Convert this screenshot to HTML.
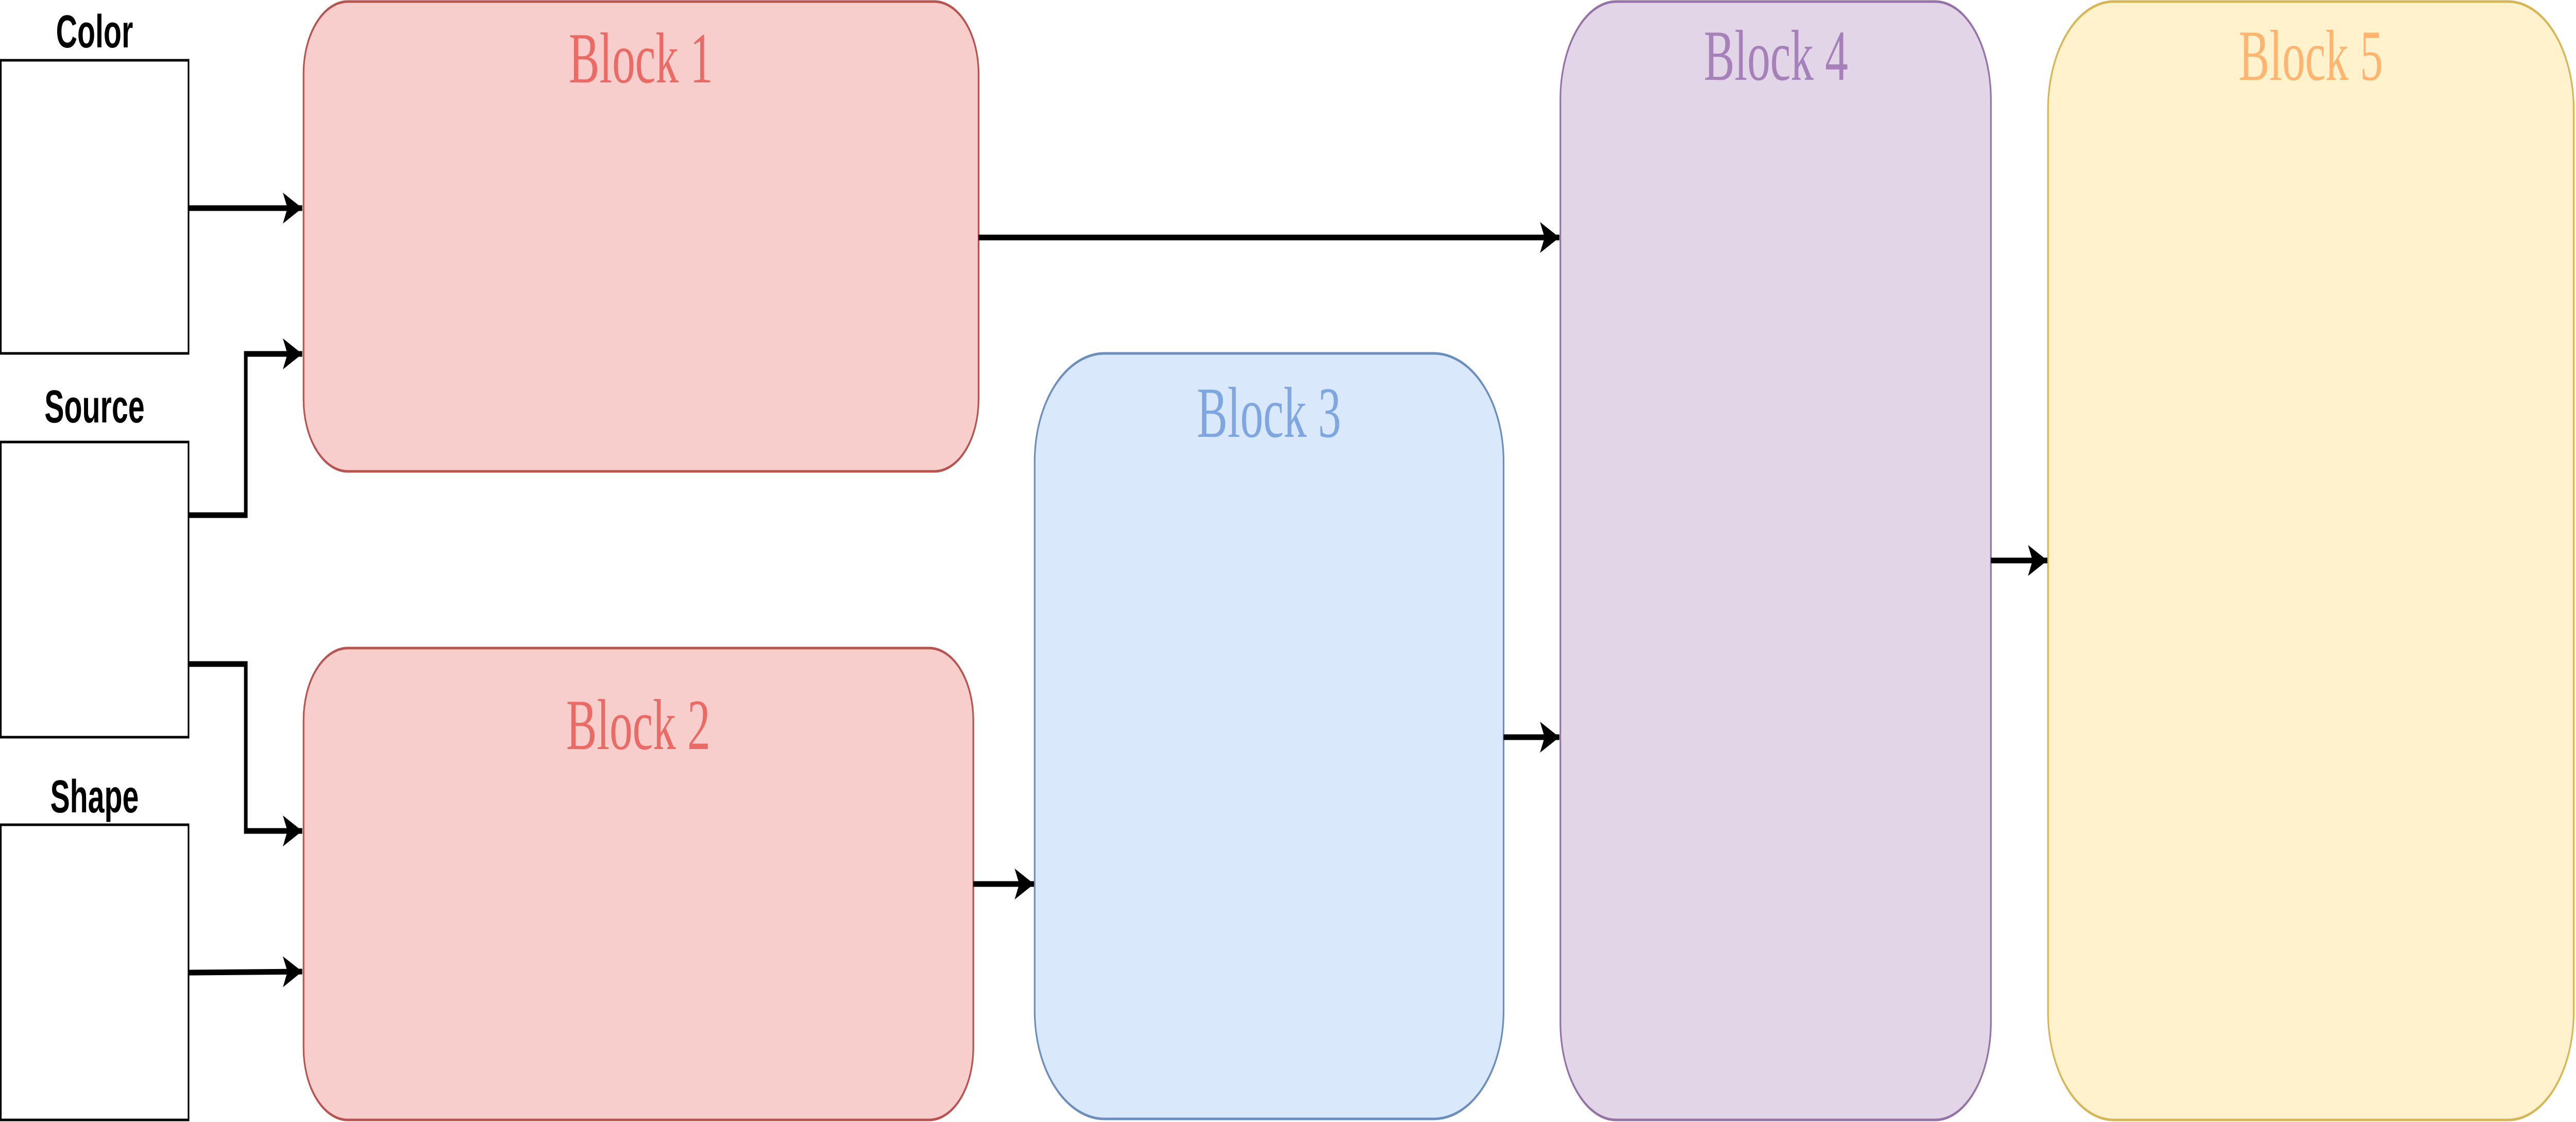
<!DOCTYPE html>
<html><head><meta charset="utf-8"><style>
html,body{margin:0;padding:0;background:#fff;width:100%;height:100%;overflow:hidden;}
svg{display:block;position:absolute;left:0;top:0;width:100vw;height:100vh;}
.lbl{font-family:"Liberation Sans",Arial,sans-serif;font-weight:bold;font-size:90px;fill:#000;}
.blk{font-family:"Liberation Serif","Times New Roman",serif;font-size:140px;}
</style></head><body>
<svg viewBox="0 0 7850 2178" preserveAspectRatio="none" xmlns="http://www.w3.org/2000/svg" overflow="hidden">
<defs>
<marker id="ah" markerUnits="userSpaceOnUse" markerWidth="60" markerHeight="62" refX="59" refY="31" orient="auto">
<path d="M0,1 L59,31 L0,61 L14,31 Z" fill="#000"/>
</marker>
</defs>
<rect width="7850" height="2178" fill="#fff"/>

<rect x="2.5" y="117" width="572" height="569" fill="#fff" stroke="#000" stroke-width="5"/>
<rect x="2.5" y="858" width="572" height="573" fill="#fff" stroke="#000" stroke-width="5"/>
<rect x="2.5" y="1601" width="572" height="573" fill="#fff" stroke="#000" stroke-width="5"/>
<text class="lbl" text-anchor="middle" x="288" y="92">Color</text>
<text class="lbl" text-anchor="middle" x="288" y="820">Source</text>
<text class="lbl" text-anchor="middle" x="288" y="1577">Shape</text>

<rect x="925" y="3" width="2057" height="912" rx="135" ry="140" fill="#f8cecc" stroke="#b85450" stroke-width="5"/>
<rect x="925" y="1258" width="2041" height="916" rx="135" ry="140" fill="#f8cecc" stroke="#b85450" stroke-width="5"/>
<rect x="3153" y="686" width="1429" height="1486" rx="213" ry="210" fill="#dae8fc" stroke="#6c8ebf" stroke-width="5"/>
<rect x="4755" y="3" width="1312" height="2171" rx="170" ry="190" fill="#e1d5e7" stroke="#9673a6" stroke-width="5"/>
<rect x="6241" y="3" width="1602" height="2171" rx="200" ry="210" fill="#fff2cc" stroke="#d6b656" stroke-width="5"/>

<text class="blk" text-anchor="middle" x="1953" y="160" fill="#ea6b66">Block 1</text>
<text class="blk" text-anchor="middle" x="1945" y="1454" fill="#ea6b66">Block 2</text>
<text class="blk" text-anchor="middle" x="3867" y="848" fill="#7ea6e0">Block 3</text>
<text class="blk" text-anchor="middle" x="5412" y="155" fill="#a680b8">Block 4</text>
<text class="blk" text-anchor="middle" x="7042" y="155" fill="#ffb570">Block 5</text>

<g fill="none" stroke="#000" stroke-width="11" marker-end="url(#ah)">
<path d="M575,404 L921,404"/>
<path d="M575,1000 L749,1000 L749,687 L921,687"/>
<path d="M575,1289 L749,1289 L749,1613 L921,1613"/>
<path d="M575,1888 L921,1886"/>
<path d="M2982,461 L4752,461"/>
<path d="M2966,1716 L3151,1716"/>
<path d="M4582,1431 L4752,1431"/>
<path d="M6067,1088 L6239,1088"/>
</g>
</svg>
</body></html>
